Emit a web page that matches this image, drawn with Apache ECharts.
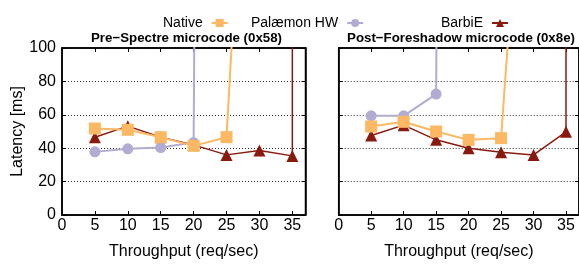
<!DOCTYPE html>
<html>
<head>
<meta charset="utf-8">
<script src="https://cdn.jsdelivr.net/npm/echarts@6/dist/echarts.min.js"></script>
<style>html,body{margin:0;padding:0;background:#fff}#c{width:579px;height:265px}</style>
</head>
<body>
<div id="c"></div>
<script>
// Tick labels
const xTicks = [0, 5, 10, 15, 20, 25, 30, 35];
const yTicks = [0, 20, 40, 60, 80, 100];
const panelTitles = ['Pre\u2212Spectre microcode (0x58)', 'Post\u2212Foreshadow microcode (0x8e)'];
const seriesNames = ['Native', 'Pal\u00e6mon HW', 'BarbiE'];

// Pre-Spectre microcode (0x58)
const preNativeX = [5, 10, 15, 20, 25, 30];
const preNativeY = [51.8, 51, 46.6, 41.4, 46.6, 400];
const prePalX = [5, 10, 15, 20, 25];
const prePalY = [37.8, 39.6, 40.4, 43.4, 3000];
const preBarbX = [5, 10, 15, 20, 25, 30, 35, 35];
const preBarbY = [46.6, 53.2, 46.6, 42, 36, 38.6, 35.4, 1000];

// Post-Foreshadow microcode (0x8e)
const postNativeX = [5, 10, 15, 20, 25, 30];
const postNativeY = [53, 55.8, 50, 45, 46, 320];
const postPalX = [5, 10, 15, 20];
const postPalY = [59.4, 59.4, 72.4, 3000];
const postBarbX = [5, 10, 15, 20, 25, 30, 35, 35];
const postBarbY = [47.6, 53.8, 45, 40, 37.6, 36, 49.8, 1000];

const colors = ['#fdb863', '#b2abd2', '#8b1a0e'];
const zip = (xs, ys) => xs.map((x, i) => [x, ys[i]]);

const chart = echarts.init(document.getElementById('c'), null, {renderer: 'canvas'});
const FONT = 'Liberation Sans, Arial, Helvetica, sans-serif';

const grids = [
  {left: 62, top: 48, width: 243.5, height: 167},
  {left: 338.7, top: 48, width: 243.5, height: 167}
];

function xAx(gi, pos) {
  const bottom = pos === 'bottom';
  return {
    type: 'value', gridIndex: gi, position: pos, min: xTicks[0], max: 37, interval: 5,
    name: bottom ? 'Throughput (req/sec)' : '', nameLocation: 'middle', nameGap: 29,
    nameTextStyle: {fontFamily: FONT, fontSize: 16, color: '#000'},
    axisLine: {show: true, onZero: false, lineStyle: {color: '#000', width: 1.5}},
    axisTick: {show: true, inside: true, length: 4, lineStyle: {color: '#000', width: 1}},
    axisLabel: {show: bottom, fontFamily: FONT, fontSize: 16, color: '#000', margin: 3,
      customValues: xTicks, formatter: v => String(v)},
    splitLine: {show: false}
  };
}
function yAx(gi, pos) {
  const left = pos === 'left';
  return {
    type: 'value', gridIndex: gi, position: pos, min: yTicks[0], max: 100, interval: 20,
    name: (left && gi === 0) ? 'Latency [ms]' : '', nameLocation: 'middle', nameGap: 35,
    nameTextStyle: {fontFamily: FONT, fontSize: 16, color: '#000'},
    axisLine: {show: true, onZero: false, lineStyle: {color: '#000', width: 1.5}},
    axisTick: {show: true, inside: true, length: 4, lineStyle: {color: '#000', width: 1}},
    axisLabel: {show: left && gi === 0, fontFamily: FONT, fontSize: 16, color: '#000', margin: 6},
    splitLine: {show: left, lineStyle: {color: '#333', width: 1, type: [1, 2]}}
  };
}

const xAxes = [xAx(0, 'bottom'), xAx(1, 'bottom'), xAx(0, 'top'), xAx(1, 'top')];
const yAxes = [yAx(0, 'left'), yAx(1, 'left'), yAx(0, 'right'), yAx(1, 'right')];

const symbols = ['rect', 'circle', 'triangle'];
const symSizes = [12, 11, 12];
const lineWidths = [2, 2, 1.5];
const data = [
  [zip(preNativeX, preNativeY), zip(prePalX, prePalY), zip(preBarbX, preBarbY)],
  [zip(postNativeX, postNativeY), zip(postPalX, postPalY), zip(postBarbX, postBarbY)]
];
const series = [];
for (let g = 0; g < 2; g++) {
  for (let s = 0; s < 3; s++) {
    series.push({
      name: seriesNames[s], type: 'line', xAxisIndex: g, yAxisIndex: g,
      data: data[g][s], clip: true, symbol: symbols[s], symbolSize: symSizes[s],
      showAllSymbol: true, animation: false,
      itemStyle: {color: colors[s]},
      lineStyle: {color: colors[s], width: lineWidths[s]},
      z: 3 - s
    });
  }
}

function legend(name, left) {
  return {
    data: [name], left: left, top: 11, align: 'right', itemWidth: 16, itemHeight: 10,
    itemGap: 0, selectedMode: false,
    textStyle: {fontFamily: FONT, fontSize: 14, color: '#000', padding: [0, 4, 0, 0]}
  };
}

chart.setOption({
  backgroundColor: '#fff',
  animation: false,
  grid: grids.map(g => Object.assign({show: true, borderColor: '#000', borderWidth: 1.5, backgroundColor: 'transparent'}, g)),
  title: [
    {text: panelTitles[0], left: 186.5, top: 31, padding: 0, textAlign: 'center',
      textStyle: {fontFamily: FONT, fontSize: 13.3, fontWeight: 'bold', color: '#000', lineHeight: 14}},
    {text: panelTitles[1], left: 461, top: 31, padding: 0, textAlign: 'center',
      textStyle: {fontFamily: FONT, fontSize: 13.3, fontWeight: 'bold', color: '#000', lineHeight: 14}}
  ],
  legend: [legend(seriesNames[0], 158), legend(seriesNames[1], 246), legend(seriesNames[2], 436)],
  xAxis: xAxes,
  yAxis: yAxes,
  series: series
});
</script>
</body>
</html>
